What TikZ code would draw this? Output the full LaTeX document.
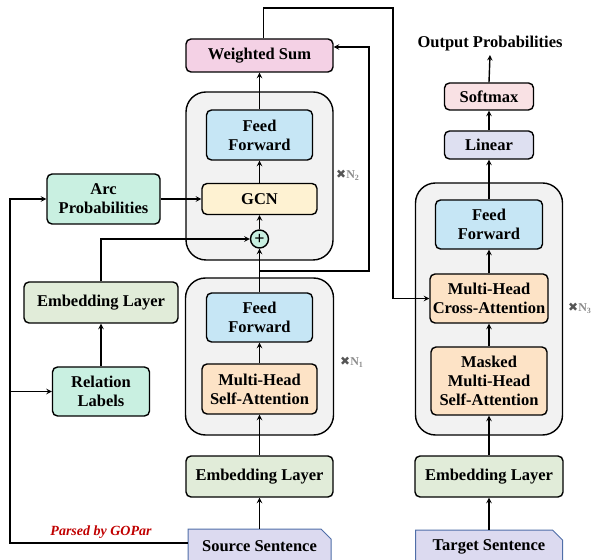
\documentclass[tikz,border=0pt]{standalone}
\usepackage{fontspec}
\setmainfont{Liberation Serif}
\newfontfamily\symbfont{DejaVu Sans}
\usetikzlibrary{positioning,shapes.misc}
\definecolor{customgray}{HTML}{F2F2F2}
\definecolor{custompink}{HTML}{F4D1E5}
\definecolor{customblue}{HTML}{C6E6F5}
\definecolor{customyellow}{HTML}{FEF2D2}
\definecolor{custommint}{HTML}{C9F0E1}
\definecolor{customgreen}{HTML}{E1ECD9}
\definecolor{customorange}{HTML}{FDE3C6}
\definecolor{customrose}{HTML}{F9E1E4}
\definecolor{customlilac}{HTML}{DEE0F1}
\definecolor{customlavender}{HTML}{DCDAF0}
\definecolor{customedge}{HTML}{4F6EA8}
\definecolor{customred}{HTML}{C00000}
\definecolor{customtimes}{HTML}{8C8C8C}
\definecolor{customcross}{HTML}{555555}

\begin{document}
\begin{tikzpicture}[
        font = \fontsize{16.5}{19}\selectfont\bfseries,
        block/.style = {draw, rectangle, rounded corners = 5pt, line width = 1.4pt, align = center, inner sep = 2pt},
        layer/.style = {draw, rectangle, fill = customgray, rounded corners = 20pt, line width = 1.4pt},
        sentence/.style = {draw = customedge, fill = customlavender, chamfered rectangle, chamfered rectangle corners = north east, chamfered rectangle xsep = 5pt, chamfered rectangle ysep = 5pt, line width = 1pt},
        rep/.style = {text = customtimes, font = \fontsize{12}{14}\selectfont\bfseries, inner sep = 0pt},
        arr/.style = {->, > = stealth, line width = 1.4pt}
    ]

        \useasboundingbox (0pt, 0pt) rectangle (593pt, 559pt);
        \clip (0pt, 0pt) rectangle (593pt, 559pt);

        % Containers
        \node [layer, minimum width = 147pt, minimum height = 168pt] (encbox2) at (259.5pt, 383pt) {};
        \node [layer, minimum width = 148pt, minimum height = 157pt] (encbox1) at (259.5pt, 202.5pt) {};
        \node [layer, minimum width = 147pt, minimum height = 252pt] (decbox) at (489pt, 250pt) {};

        \node [rep, anchor = west] (n2) at (336pt, 384pt) {{\symbfont\color{customcross}✖}N\textsubscript{2}};
        \node [rep, anchor = west] (n1) at (340pt, 197pt) {{\symbfont\color{customcross}✖}N\textsubscript{1}};
        \node [rep, anchor = west] (n3) at (568pt, 251pt) {{\symbfont\color{customcross}✖}N\textsubscript{3}};

        % Encoder side
        \node [block, fill = custompink, minimum width = 147pt, minimum height = 33pt] (wsum) at (259.5pt, 503.5pt) {Weighted Sum};
        \node [block, fill = customblue, minimum width = 106pt, minimum height = 50pt] (ff2) at (259.5pt, 424pt) {Feed\\Forward};
        \node [block, fill = customyellow, minimum width = 115pt, minimum height = 31pt] (gcn) at (259.5pt, 360pt) {GCN};
        \node [draw, circle, fill = custommint, line width = 1.4pt, minimum size = 18pt, inner sep = 0pt] (plus) at (259.5pt, 320pt) {\fontsize{18}{18}\selectfont +};
        \node [block, fill = customblue, minimum width = 106pt, minimum height = 49pt] (ff1) at (259.5pt, 241.5pt) {Feed\\Forward};
        \node [block, fill = customorange, minimum width = 115pt, minimum height = 50pt] (mhsa) at (259.5pt, 170pt) {Multi-Head\\Self-Attention};
        \node [block, fill = customgreen, minimum width = 147pt, minimum height = 41pt] (emb2) at (259.5pt, 82.5pt) {Embedding Layer};
        \node [sentence, minimum width = 143pt, minimum height = 34pt] (src) at (259.5pt, 13pt) {Source Sentence};

        % Parse side
        \node [block, fill = custommint, minimum width = 113pt, minimum height = 50pt] (arc) at (103.5pt, 360pt) {Arc\\Probabilities};
        \node [block, fill = customgreen, minimum width = 154pt, minimum height = 41pt] (emb1) at (101pt, 256.5pt) {Embedding Layer};
        \node [block, fill = custommint, minimum width = 97pt, minimum height = 49pt] (rel) at (101pt, 167.5pt) {Relation\\Labels};
        \node [text = customred, font = \fontsize{14}{16}\selectfont\bfseries\itshape] (gopar) at (101pt, 27pt) {Parsed by GOPar};

        % Decoder side
        \node (out) at (490pt, 515pt) {Output Probabilities};
        \node [block, fill = customrose, minimum width = 89pt, minimum height = 27pt] (softmax) at (489pt, 462.5pt) {Softmax};
        \node [block, fill = customlilac, minimum width = 89pt, minimum height = 28pt] (linear) at (489pt, 414pt) {Linear};
        \node [block, fill = customblue, minimum width = 107pt, minimum height = 49pt] (ff3) at (489pt, 334.5pt) {Feed\\Forward};
        \node [block, fill = customorange, minimum width = 118pt, minimum height = 49pt] (cross) at (489pt, 260.5pt) {Multi-Head\\Cross-Attention};
        \node [block, fill = customorange, minimum width = 116pt, minimum height = 68pt] (masked) at (489pt, 178pt) {Masked\\Multi-Head\\Self-Attention};
        \node [block, fill = customgreen, minimum width = 148pt, minimum height = 41pt] (emb3) at (489pt, 82.5pt) {Embedding Layer};
        \node [sentence, minimum width = 147pt, minimum height = 34pt] (tgt) at (489pt, 12pt) {Target Sentence};

        \coordinate (corner) at (393pt, 551pt);
        \coordinate (split) at (259.5pt, 288pt);
        \coordinate (sumin) at (369pt, 512pt);
        \coordinate (loop) at (10pt, 16pt);

        % Main stack
        \draw [arr] (src.north) -- (emb2.south);
        \draw [arr] (emb2.north) -- (mhsa.south);
        \draw [arr] (mhsa.north) -- (ff1.south);
        \draw [arr] (ff1.north) -- (plus.south);
        \draw [arr] (plus.north) -- (gcn.south);
        \draw [arr] (gcn.north) -- (ff2.south);
        \draw [arr] (ff2.north) -- (wsum.south);

        % Parse inputs
        \draw [arr] (src.west |- loop) -- (loop) |- (arc.west);
        \draw [arr] (rel.west -| loop) -- (rel.west);
        \draw [arr] (rel.north) -- (emb1.south);
        \draw [arr] (emb1.north) |- (plus.west);
        \draw [arr] (arc.east) -- (gcn.west);

        % Skip and cross links
        \draw [arr] (split) -| (sumin) -- (sumin -| wsum.east);
        \draw [arr] ([xshift = 4pt] wsum.north) |- (corner) |- (cross.west);

        % Decoder stack
        \draw [arr] (tgt.north) -- (emb3.south);
        \draw [arr] (emb3.north) -- (masked.south);
        \draw [arr] (masked.north) -- (cross.south);
        \draw [arr] (cross.north) -- (ff3.south);
        \draw [arr] (ff3.north) -- (linear.south);
        \draw [arr] (linear.north) -- (softmax.south);
        \draw [arr] (softmax.north) -- (out.south);

    \end{tikzpicture}
\end{document}
